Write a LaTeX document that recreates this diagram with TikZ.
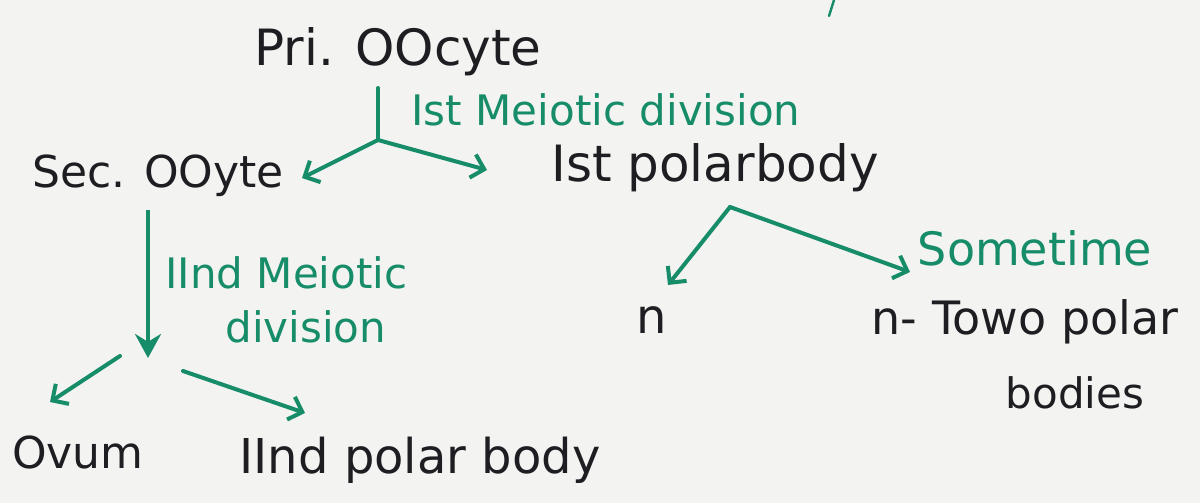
\documentclass[tikz,border=0pt]{standalone}
\usepackage{fontspec}
\setmainfont{DejaVu Sans}
\usetikzlibrary{arrows.meta}
\definecolor{ink}{RGB}{30,30,34}
\definecolor{gink}{RGB}{22,140,104}
\definecolor{paper}{RGB}{243,243,241}
\newcommand{\fsz}[1]{\fontsize{#1}{#1}\selectfont}
\tikzset{
  txt/.style={text=ink, inner sep=0pt, font=\fsz{22}},
  gtxt/.style={text=gink, inner sep=0pt, font=\fsz{21}},
  gline/.style={draw=gink, line width=2pt, line cap=round, line join=round},
  garrow/.style={gline, -{Straight Barb[length=6pt,width=12pt,line width=2pt]}},
  gbig/.style={draw=gink, line width=2.4pt, -{Stealth[length=12pt,width=13pt]}},
}
\begin{document}
\begin{tikzpicture}[x=0.5pt,y=-0.5pt]
\fill[paper] (0,0) rectangle (1200,503);
\useasboundingbox (0,0) rectangle (1200,503);
% texts
\node[txt, font=\fsz{25}] (pri) at (398,52) {Pri. OOcyte};
\node[gtxt] (div1) at (606,110) {Ist Meiotic division};
\node[txt] (sec) at (158,176) {Sec. OOyte};
\node[txt, font=\fsz{25}] (pb1) at (715,168) {Ist polarbody};
\node[gtxt, align=left, anchor=north west] (div2) at (165,256) {IInd Meiotic\\[6pt]\hspace*{30pt}division};
\node[txt] (ovum) at (78,452) {Ovum};
\node[txt, font=\fsz{24}] (pb2) at (420,460) {IInd polar body};
\node[gtxt, font=\fsz{23}] (some) at (1035,248) {Sometime};
\node[txt, font=\fsz{24}] (nn) at (652,320) {n};
\node[txt, font=\fsz{23}] (two) at (1025,322) {n- Towo polar};
\node[txt, font=\fsz{21}] (bod) at (1075,393) {bodies};
% junctions and tips
\coordinate (j1top) at (378,88);
\coordinate (j1) at (378,140);
\coordinate (t1a) at (302,178);
\coordinate (t1b) at (487,170);
\coordinate (j2top) at (148,210);
\coordinate (j2) at (148,358);
\coordinate (j2a) at (120,356);
\coordinate (t2a) at (50,402);
\coordinate (j2b) at (183,371);
\coordinate (t2b) at (305,413);
\coordinate (j3) at (730,207);
\coordinate (t3a) at (668,285);
\coordinate (t3b) at (910,272);
\coordinate (s1) at (834,0);
\coordinate (s2) at (829,16);
% connectors
\draw[gline] (j1top) -- (j1);
\draw[garrow] (j1) -- (t1a);
\draw[garrow] (j1) -- (t1b);
\draw[gbig] (j2top) -- (j2);
\draw[garrow] (j2a) -- (t2a);
\draw[garrow] (j2b) -- (t2b);
\draw[garrow] (j3) -- (t3a);
\draw[garrow] (j3) -- (t3b);
\draw[gline, line width=1.2pt] (s1) -- (s2);
\end{tikzpicture}
\end{document}
